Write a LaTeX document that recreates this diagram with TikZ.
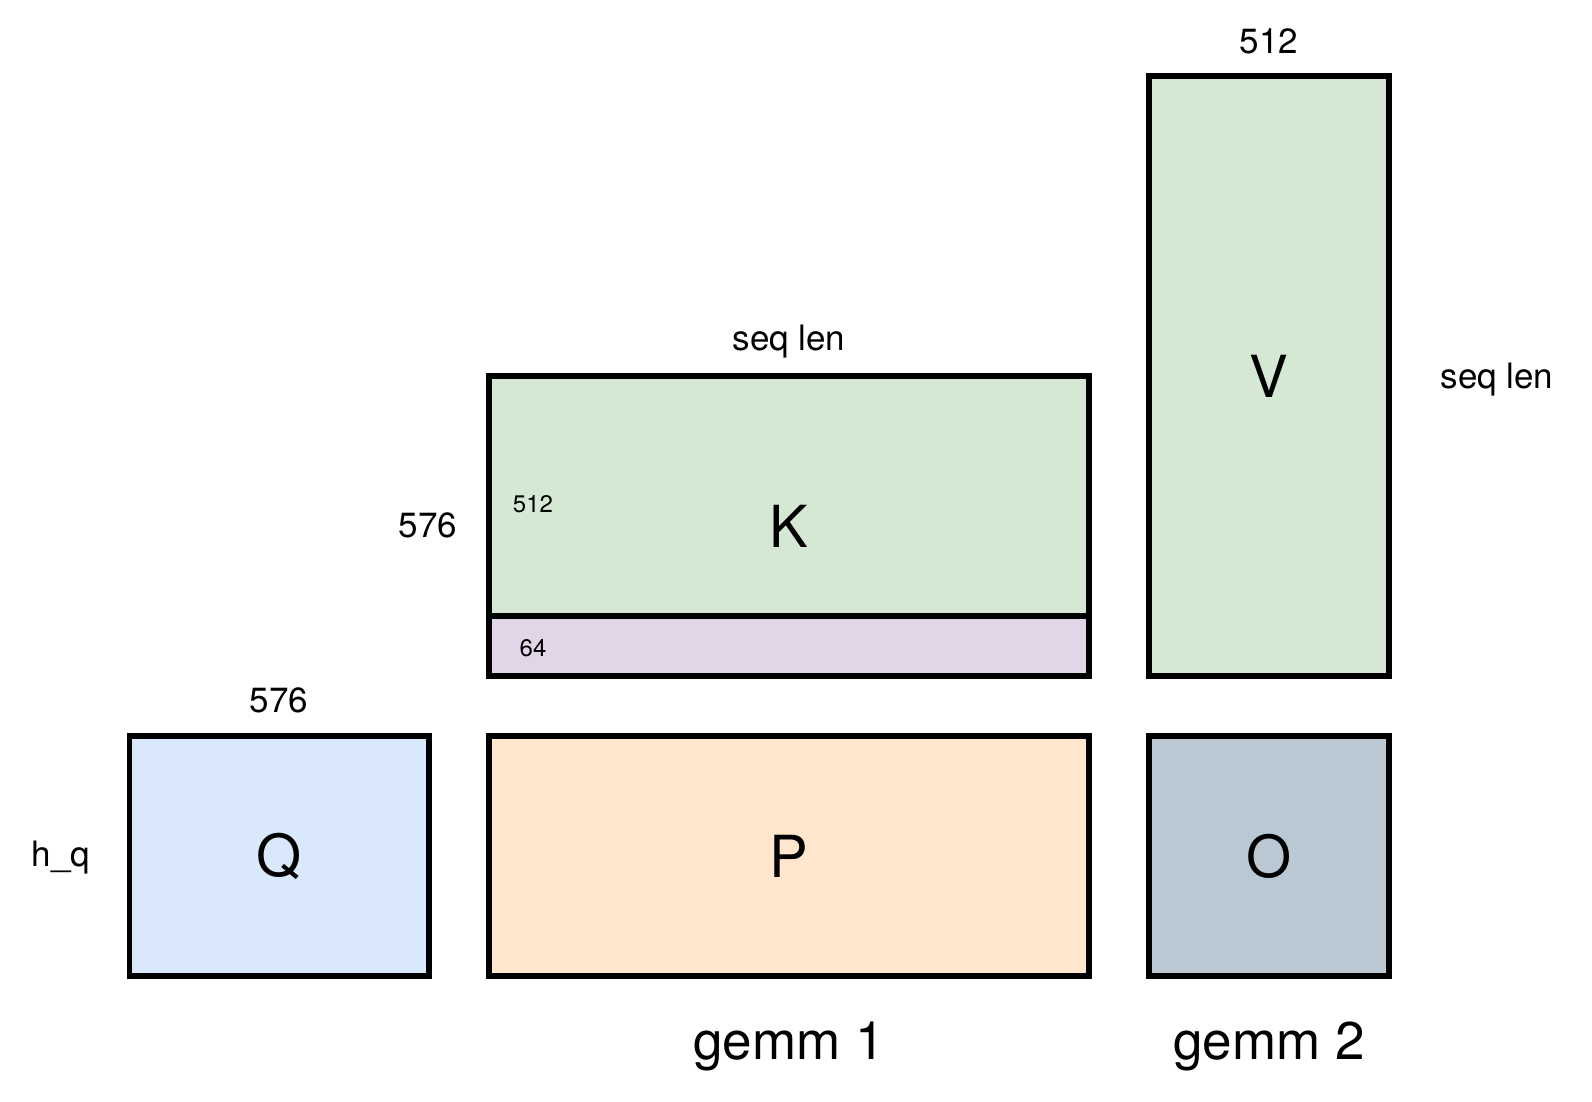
\documentclass[tikz,border=0pt]{standalone}
\usepackage{fontspec}
\setmainfont{TeX Gyre Heros}
\usepackage{tikz}

\definecolor{qblue}{HTML}{DAE8FC}
\definecolor{porange}{HTML}{FFE6CC}
\definecolor{kgreen}{HTML}{D5E8D4}
\definecolor{ropurple}{HTML}{E1D5E7}
\definecolor{ogrey}{HTML}{BAC8D3}

\begin{document}
\begin{tikzpicture}[x=0.5pt, y=-0.5pt, every node/.style={inner sep=0pt, outer sep=0pt},
    mat/.style={draw, line width=2.8pt, font=\fontsize{29}{34}\selectfont},
    dim/.style={font=\fontsize{17.5}{21}\selectfont},
    small/.style={font=\fontsize{12}{14}\selectfont},
    gemm/.style={font=\fontsize{26.5}{31}\selectfont}]

\useasboundingbox (0,0) rectangle (1592,1102);

% Bottom row
\node[mat, fill=qblue, minimum width=149.75pt, minimum height=120pt] (q) at (279.25,856) {Q};
\node[mat, fill=porange, minimum width=300pt, minimum height=120pt] (p) at (789,856) {P};
\node[mat, fill=ogrey, minimum width=120pt, minimum height=120pt] (o) at (1269,856) {O};

% K with its rope part at the bottom
\node[mat, fill=kgreen, minimum width=300pt, minimum height=150pt] (k) at (789,526) {K};
\node[mat, fill=ropurple, minimum width=300pt, minimum height=30pt] (krope) at (789,646) {};

% V
\node[mat, fill=kgreen, minimum width=120pt, minimum height=300pt] (v) at (1269,376) {V};

% Sizes
\node[dim] (qcols) at (279,700) {576};
\node[dim] (qrows) at (61,858) {h\_q};
\node[dim] (kcols) at (789,342) {seq len};
\node[dim] (krows) at (428,525) {576};
\node[small] (knope) at (533,504) {512};
\node[small] (kpe) at (533,648) {64};
\node[dim] (vcols) at (1269,41) {512};
\node[dim] (vrows) at (1497,380) {seq len};

% Bottom text
\node[gemm] (gemma) at (789,1046) {gemm 1};
\node[gemm] (gemmb) at (1269,1046) {gemm 2};

\end{tikzpicture}
\end{document}
